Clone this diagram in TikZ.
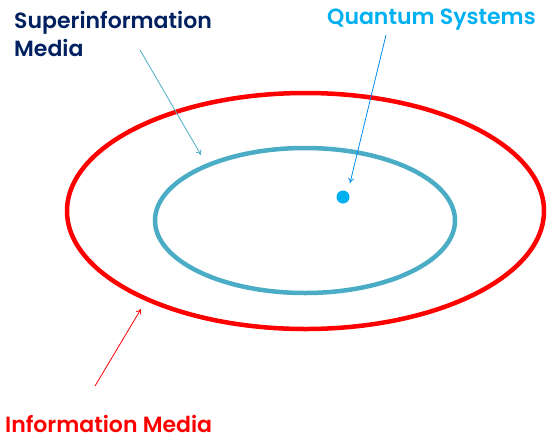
\documentclass[tikz,border=0pt]{standalone}
\usepackage{fontspec}
\setmainfont{Poppins}[UprightFont=* SemiBold]
\usetikzlibrary{shapes.geometric,arrows.meta}
\definecolor{cred}{HTML}{FF0000}
\definecolor{cblue}{HTML}{4BACC6}
\definecolor{cqs}{HTML}{00B0F0}
\definecolor{cnavy}{HTML}{002060}
\tikzset{
  ring/.style={draw, ellipse, line width=4.5pt, inner sep=0pt},
  lbl/.style={font=\fontsize{22}{28}\selectfont, align=left, inner sep=0pt},
  pointer/.style={-{To[length=5pt,width=6pt]}, line width=0.8pt},
}
\begin{document}
\begin{tikzpicture}[x=1pt,y=-1pt]
\useasboundingbox (0,0) rectangle (553,439);
\node[ring, cred, minimum width=477pt, minimum height=236pt] (outer) at (305.5,211) {};
\node[ring, cblue, minimum width=300pt, minimum height=145pt] (inner) at (305,220.5) {};
\node[circle, fill=cqs, minimum size=13pt, inner sep=0pt] (dot) at (343,197) {};
\node[lbl, cnavy, anchor=base west] (sm) at (14,56) {Superinformation\\Media};
\node[lbl, cqs, anchor=base west] (qs) at (327,24) {Quantum Systems};
\node[lbl, cred, anchor=base west] (im) at (5,432) {Information Media};
\coordinate (smS) at (140,50);
\coordinate (smE) at (201,155);
\coordinate (qsS) at (386,35);
\coordinate (qsE) at (350,183);
\coordinate (imS) at (95,386);
\coordinate (imE) at (141,309);
\draw[pointer, cblue] (smS) -- (smE);
\draw[pointer, cqs!80!blue] (qsS) -- (qsE);
\draw[pointer, cred] (imS) -- (imE);
\end{tikzpicture}
\end{document}
